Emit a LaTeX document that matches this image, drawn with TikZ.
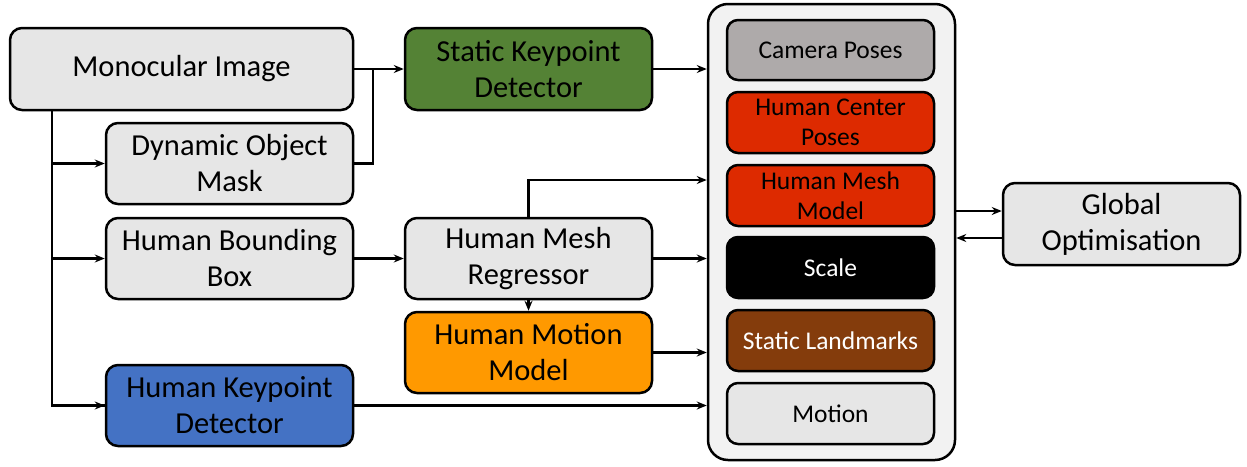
\documentclass[tikz,border=0pt]{standalone}
\usepackage{fontspec}
\setmainfont{Carlito}
\usetikzlibrary{arrows.meta,calc}
\definecolor{lgray}{HTML}{E6E6E6}
\definecolor{outerfill}{HTML}{F2F2F2}
\definecolor{camgray}{HTML}{AEAAAA}
\definecolor{hred}{HTML}{DD2A00}
\definecolor{sgreen}{HTML}{548235}
\definecolor{hblue}{HTML}{4472C4}
\definecolor{horange}{HTML}{FF9900}
\definecolor{lbrown}{HTML}{843C0C}
\tikzset{
  box/.style={draw=black, line width=2.5pt, rounded corners=12pt, fill=lgray, align=center,
    inner sep=0pt, font=\fontsize{30.5}{36}\selectfont},
  bigbox/.style={box, minimum width=247pt, minimum height=81pt},
  sbox/.style={draw=black, line width=2.5pt, rounded corners=11pt, align=center, inner sep=0pt,
    minimum width=207pt, minimum height=61pt, font=\fontsize{25.5}{30}\selectfont},
  arr/.style={line width=2.2pt, -{Stealth[length=10pt,width=8pt]}},
  ln/.style={line width=2.2pt}
}
\begin{document}
\begin{tikzpicture}[x=1pt,y=-1pt]
\useasboundingbox (0,0) rectangle (1247,466);
% left column
\node[box, minimum width=343pt, minimum height=82pt] (mono) at (181.5,69) {Monocular Image};
\node[bigbox] (dom) at (229.5,163.5) {Dynamic Object\\Mask};
\node[bigbox] (hbb) at (229.5,258.5) {Human Bounding\\Box};
\node[bigbox, fill=hblue] (hkd) at (229.5,405.5) {Human Keypoint\\Detector};
% middle column
\node[bigbox, fill=sgreen, minimum height=82pt] (skd) at (528.5,69) {Static Keypoint\\Detector};
\node[bigbox] (hmr) at (528.5,258.5) {Human Mesh\\Regressor};
\node[bigbox, fill=horange] (hmm) at (528.5,352.5) {Human Motion\\Model};
% container
\node[draw=black, line width=2.5pt, rounded corners=20pt, fill=outerfill, minimum width=247pt,
  minimum height=456pt, inner sep=0pt] (outer) at (831.5,232) {};
\node[sbox, fill=camgray, minimum height=60pt] (cam) at (830.5,50) {Camera Poses};
\node[sbox, fill=hred] (hcp) at (830.5,122.5) {Human Center\\Poses};
\node[sbox, fill=hred] (hmmod) at (830.5,195.5) {Human Mesh\\Model};
\node[sbox, fill=black, text=white] (scale) at (830.5,267.5) {Scale};
\node[sbox, fill=lbrown, text=white] (sl) at (830.5,340.5) {Static Landmarks};
\node[sbox, fill=lgray] (motion) at (830.5,413.5) {Motion};
% global
\node[box, minimum width=237pt, minimum height=82pt] (glob) at (1121.5,224) {Global\\Optimisation};
% coordinates
\coordinate (m0) at (52,110);
\coordinate (j1) at (373,69);
\coordinate (up) at (528,180);
\coordinate (g1) at (0,211);
\coordinate (g2) at (0,238);
% connectors
\draw[arr] (mono.east) -- (skd.west);
\draw[ln] (dom.east) -| (j1);
\draw[ln] (m0) |- (hkd.west);
\draw[arr] (m0 |- hkd.west) -- (hkd.west);
\draw[arr] (m0 |- dom.west) -- (dom.west);
\draw[arr] (m0 |- hbb.west) -- (hbb.west);
\draw[arr] (hbb.east) -- (hmr.west);
\draw[arr] (skd.east) -- (outer.west |- skd.east);
\draw[arr] (hmr.north) |- (outer.west |- up);
\draw[arr] (hmr.east) -- (outer.west |- hmr.east);
\draw[arr] (hmr.south) -- (hmm.north);
\draw[arr] (hmm.east) -- (outer.west |- hmm.east);
\draw[arr] (hkd.east) -- (outer.west |- hkd.east);
\draw[arr] (outer.east |- g1) -- (glob.west |- g1);
\draw[arr] (glob.west |- g2) -- (outer.east |- g2);
\end{tikzpicture}
\end{document}
